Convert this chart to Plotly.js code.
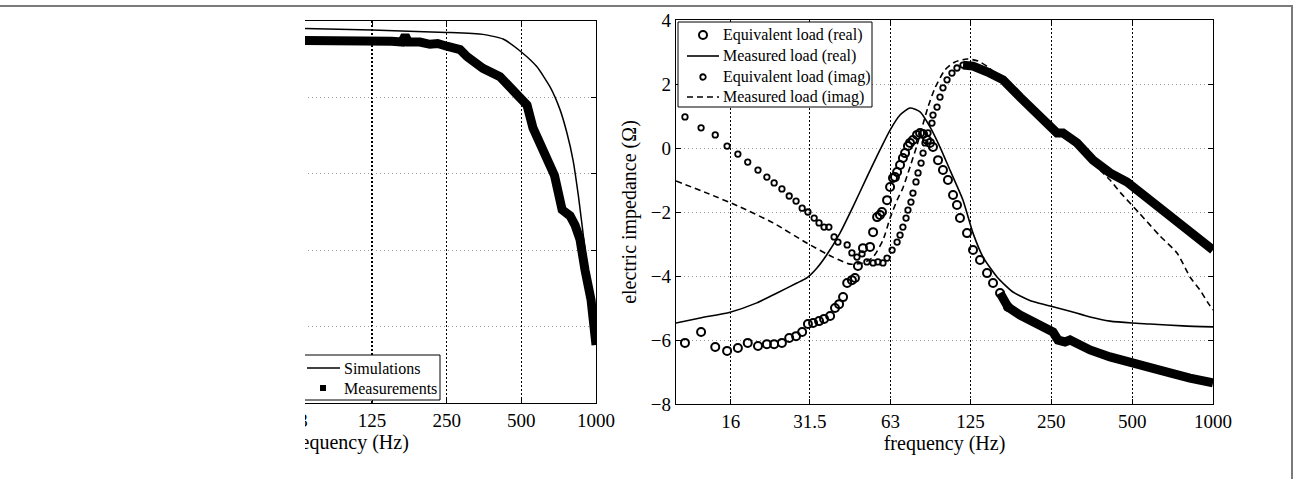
<!DOCTYPE html>
<html>
<head>
<meta charset="utf-8">
<script src="https://cdn.plot.ly/plotly-3.0.1.min.js"></script>
<style>
  body { margin: 0; background: #fff; }
  #wrap { position: relative; width: 1293px; height: 479px; overflow: hidden; background: #fff; }
  #clip { position: absolute; left: 305px; top: 0; width: 988px; height: 479px; overflow: hidden; }
  #plot { position: absolute; left: -305px; top: 0; width: 1293px; height: 479px; }
  #btop { position: absolute; left: 0; top: 5px; width: 1292px; height: 2px; background: #7a7a7a; }
  #bright { position: absolute; left: 1291px; top: 5px; width: 2px; height: 474px; background: #7a7a7a; }
</style>
</head>
<body>
<div id="wrap">
  <div id="clip"><div id="plot"></div></div>
  <div id="btop"></div>
  <div id="bright"></div>
</div>
<script>
// ---------- tick labels ----------
const tickVals = [16, 31.5, 63, 125, 250, 500, 1000];
const tickText = ['16', '31.5', '63', '125', '250', '500', '1000'];
// the left panel is cropped: only its ticks from 63 Hz up are in view
const tickValsLeft = [63, 125, 250, 500, 1000];
const tickTextLeft = ['63', '125', '250', '500', '1000'];

// ---------- left panel ----------
const simFreq = [60, 125, 250, 350, 422, 500, 578, 652, 716, 764, 808, 850, 900, 950, 1000];
const simVal  = [-0.95, -1.18, -1.5, -1.75, -2.36, -4.06, -6.0, -8.6, -11.6, -14.7, -18.2, -23.0, -29.5, -36.0, -42.4];

const measFreq = [60, 67, 80, 93, 110, 125, 150, 165, 170, 175, 195, 214, 230, 250, 283, 302, 350, 410, 480, 500, 527, 557, 612, 680, 730, 764, 786, 823, 862, 903, 955, 1000];
const measVal  = [-2.55, -2.55, -2.5, -2.42, -2.42, -2.5, -2.65, -2.75, -1.9, -2.75, -2.75, -3.05, -2.95, -3.3, -3.75, -4.67, -6.19, -7.29, -9.9, -10.3, -11.0, -14.0, -17.1, -20.2, -24.7, -25.3, -25.5, -26.7, -28.6, -32.6, -36.5, -42.4];

// ---------- right panel ----------
const eqRealFreq = [10.8, 12.4, 14.0, 15.5, 17.0, 18.5, 20.2, 21.8, 23.2, 24.8, 26.4, 28.0, 29.5, 31.0, 32.4, 34.1, 35.6, 37.5, 39.1, 40.5, 41.9, 43.4, 45.2, 46.4, 47.6, 49.7, 52.8, 54.2, 56.1, 57.5, 58.5, 61.1, 62.7, 64.3, 65.4, 66.6, 68.3, 70.0, 71.3, 73.1, 74.4, 76.3, 79.0, 81.1, 83.2, 86.1, 88.3, 90.6, 94.6, 98.7, 103.0, 107.6, 111.3, 114.2, 121.3, 127.7, 135.6, 144.0, 151.6, 161.0, 172.4];
const eqRealVal  = [-6.09, -5.75, -6.22, -6.34, -6.25, -6.09, -6.19, -6.13, -6.13, -6.09, -5.94, -5.88, -5.75, -5.5, -5.47, -5.41, -5.34, -5.25, -5.0, -4.88, -4.66, -4.22, -4.13, -4.06, -3.69, -3.13, -3.09, -2.63, -2.16, -2.09, -2.0, -1.63, -1.22, -0.94, -0.91, -0.75, -0.53, -0.31, -0.16, 0.06, 0.16, 0.25, 0.41, 0.47, 0.44, 0.25, 0.16, 0.03, -0.38, -0.69, -1.0, -1.47, -1.78, -2.19, -2.66, -3.19, -3.5, -3.91, -4.22, -4.53, -4.97];
const eqRealBandFreq = [161.0, 172.4, 191.1, 213.6, 240.9, 253.6, 264.7, 281.1, 293.4, 348.3, 413.5, 478.4, 521.2, 582.6, 691.8, 820.9, 1000];
const eqRealBandVal  = [-4.53, -4.97, -5.22, -5.44, -5.63, -5.75, -6.0, -6.06, -6.0, -6.31, -6.53, -6.69, -6.72, -6.84, -7.03, -7.19, -7.34];

const measRealFreq = [10.0, 12.3, 15.9, 20.0, 23.8, 28.2, 30.7, 33.5, 36.5, 40.8, 45.6, 51.4, 57.5, 62.7, 68.3, 74.4, 81.1, 88.3, 96.2, 104.8, 117.2, 127.7, 139.2, 156.9, 179.9, 213.6, 253.6, 293.4, 348.3, 413.5, 499.3, 582.6, 773.3, 1000];
const measRealVal  = [-5.47, -5.31, -5.13, -4.84, -4.53, -4.22, -4.06, -3.75, -3.33, -2.66, -1.84, -0.91, -0.06, 0.56, 1.03, 1.25, 1.13, 0.66, 0.03, -0.69, -1.63, -2.66, -3.41, -4.03, -4.5, -4.8, -4.96, -5.1, -5.28, -5.41, -5.47, -5.5, -5.56, -5.59];

const eqImagFreq = [10.8, 12.4, 14.0, 15.5, 17.0, 18.5, 20.2, 21.8, 23.2, 24.8, 26.4, 28.0, 29.5, 31.0, 32.7, 34.1, 35.6, 37.1, 38.8, 40.1, 43.4, 45.2, 47.2, 49.3, 51.4, 54.2, 56.5, 59.0, 61.1, 63.8, 66.6, 68.3, 70.0, 71.9, 73.1, 75.0, 76.3, 78.3, 79.7, 81.8, 83.2, 84.6, 86.8, 89.8, 90.6, 93.8, 96.2, 98.7, 102.2, 106.6, 111.3, 117.2];
const eqImagVal  = [0.97, 0.63, 0.41, 0.06, -0.19, -0.44, -0.69, -0.91, -1.09, -1.28, -1.5, -1.66, -1.88, -2.0, -2.19, -2.34, -2.47, -2.47, -2.78, -2.94, -3.03, -3.28, -3.41, -3.31, -3.56, -3.59, -3.56, -3.59, -3.44, -3.19, -2.94, -2.72, -2.47, -2.19, -1.94, -1.69, -1.41, -1.06, -0.78, -0.47, -0.16, 0.16, 0.47, 0.78, 1.03, 1.28, 1.59, 1.88, 2.13, 2.34, 2.5, 2.59];
const eqImagBandFreq = [117.2, 127.7, 144.0, 165.2, 191.1, 221.1, 247.2, 262.4, 276.3, 311.6, 357.4, 413.5, 478.4, 521.2, 582.6, 691.8, 820.9, 1000];
const eqImagBandVal  = [2.59, 2.56, 2.38, 2.13, 1.59, 1.09, 0.66, 0.47, 0.47, 0.16, -0.38, -0.78, -1.06, -1.31, -1.63, -2.09, -2.63, -3.19];

const measImagFreq = [10.0, 13.05, 17.3, 23.0, 30.7, 38.4, 44.5, 49.7, 54.2, 59.0, 62.7, 66.6, 70.0, 74.4, 79.0, 83.2, 86.8, 92.2, 100.4, 109.4, 121.3, 133.3, 145.2, 156.9, 191.1, 247.2, 319.6, 379.5, 413.5, 450.4, 534.7, 634.8, 734.5, 820.9, 894.6, 958.0, 1000];
const measImagVal  = [-1.03, -1.41, -1.84, -2.34, -2.97, -3.41, -3.63, -3.59, -3.41, -2.88, -2.19, -1.63, -1.25, -0.59, 0.09, 0.75, 1.28, 1.88, 2.44, 2.69, 2.78, 2.72, 2.53, 2.28, 1.69, 0.75, -0.06, -0.69, -1.0, -1.38, -2.06, -2.75, -3.28, -4.03, -4.44, -4.84, -5.06];

// legend entries
const legendRight = ['Equivalent load (real)', 'Measured load (real)', 'Equivalent load (imag)', 'Measured load (imag)'];
const legendLeft  = ['Simulations', 'Measurements'];

// ---------- traces ----------
const K = '#000';
const traces = [
  { x: simFreq, y: simVal, xaxis: 'x', yaxis: 'y', mode: 'lines', name: legendLeft[0],
    line: { color: K, width: 1.5, shape: 'spline', smoothing: 0.5 } },
  { x: measFreq, y: measVal, xaxis: 'x', yaxis: 'y', mode: 'lines', name: legendLeft[1],
    line: { color: K, width: 9 } },
  { x: eqRealBandFreq, y: eqRealBandVal, xaxis: 'x2', yaxis: 'y2', mode: 'lines', name: legendRight[0],
    line: { color: K, width: 9 } },
  { x: eqImagBandFreq, y: eqImagBandVal, xaxis: 'x2', yaxis: 'y2', mode: 'lines', name: legendRight[2],
    line: { color: K, width: 9 } },
  { x: eqRealFreq, y: eqRealVal, xaxis: 'x2', yaxis: 'y2', mode: 'markers', name: legendRight[0],
    marker: { symbol: 'circle-open', size: 8, color: K, line: { width: 2, color: K } } },
  { x: measRealFreq, y: measRealVal, xaxis: 'x2', yaxis: 'y2', mode: 'lines', name: legendRight[1],
    line: { color: K, width: 1.6, shape: 'spline', smoothing: 0.6 } },
  { x: eqImagFreq, y: eqImagVal, xaxis: 'x2', yaxis: 'y2', mode: 'markers', name: legendRight[2],
    marker: { symbol: 'circle-open', size: 5.5, color: K, line: { width: 1.8, color: K } } },
  { x: measImagFreq, y: measImagVal, xaxis: 'x2', yaxis: 'y2', mode: 'lines', name: legendRight[3],
    line: { color: K, width: 1.6, dash: '6px,4px', shape: 'spline', smoothing: 0.6 } }
];

// ---------- layout ----------
const W = 1293, H = 479;
const PX = v => v / W, PY = v => 1 - v / H;
const FONT = '"Liberation Serif", "Times New Roman", Times, serif';
function xStyle(extra) {
  return Object.assign({
    type: 'log', range: [1, 3], tickvals: tickVals, ticktext: tickText,
    showline: true, linecolor: K, linewidth: 1.2, mirror: 'allticks',
    ticks: 'inside', ticklen: 5, tickwidth: 1, tickcolor: K,
    showgrid: true, gridcolor: K, griddash: '2px,2px', gridwidth: 1.2,
    zeroline: false, tickfont: { size: 19, color: K, family: FONT },
    title: { text: 'frequency (Hz)', standoff: 0, font: { size: 20, color: K, family: FONT } }
  }, extra);
}
function yStyle(extra) {
  return Object.assign({
    showline: true, linecolor: K, linewidth: 1.2, mirror: 'allticks',
    ticks: 'inside', ticklen: 5, tickwidth: 1, tickcolor: K,
    showgrid: true, gridcolor: '#9a9a9a', griddash: '1px,3px', gridwidth: 1,
    zeroline: false, tickfont: { size: 19, color: K, family: FONT }
  }, extra);
}

const shapes = [];
const annotations = [];
function legendBox(x0, x1, y0, y1) {
  shapes.push({ type: 'rect', xref: 'paper', yref: 'paper', layer: 'above',
    x0: PX(x0), x1: PX(x1), y0: PY(y0), y1: PY(y1),
    fillcolor: '#fff', line: { color: K, width: 1 } });
}
function legendText(txt, x, y) {
  annotations.push({ text: txt, xref: 'paper', yref: 'paper', x: PX(x), y: PY(y),
    xanchor: 'left', yanchor: 'middle', showarrow: false,
    font: { size: 16, color: K, family: FONT } });
}
function keyLine(x0, x1, y, dash) {
  shapes.push({ type: 'line', xref: 'paper', yref: 'paper', layer: 'above',
    x0: PX(x0), x1: PX(x1), y0: PY(y), y1: PY(y), line: { color: K, width: 1.6, dash: dash || 'solid' } });
}
function keyCircle(cx, cy, d, w) {
  shapes.push({ type: 'circle', xref: 'paper', yref: 'paper', layer: 'above',
    x0: PX(cx - d / 2), x1: PX(cx + d / 2), y0: PY(cy + d / 2), y1: PY(cy - d / 2),
    line: { color: K, width: w } });
}
function keySquare(cx, cy, d) {
  shapes.push({ type: 'rect', xref: 'paper', yref: 'paper', layer: 'above',
    x0: PX(cx - d / 2), x1: PX(cx + d / 2), y0: PY(cy + d / 2), y1: PY(cy - d / 2),
    fillcolor: K, line: { color: K, width: 0 } });
}

// right legend
legendBox(678, 872, 22, 107);
const rRows = [35, 56, 77, 97];
keyCircle(703, rRows[0], 8, 2);
keyLine(687, 719, rRows[1]);
keyCircle(703, rRows[2], 5.5, 1.8);
keyLine(687, 719, rRows[3], '6px,4px');
legendRight.forEach((t, i) => legendText(t, 721, rRows[i]));

// left legend (its left part lies outside the crop)
legendBox(299, 440, 355, 400);
const lRows = [368, 388];
keyLine(307, 340, lRows[0]);
keySquare(323, lRows[1], 6);
legendLeft.forEach((t, i) => legendText(t, 342, lRows[i]));

const layout = {
  width: W, height: H,
  margin: { l: 0, r: 0, t: 0, b: 0 },
  paper_bgcolor: '#fff', plot_bgcolor: '#fff',
  font: { family: FONT, color: K, size: 19 },
  showlegend: false,
  xaxis: xStyle({ domain: [PX(100), PX(596)], anchor: 'y', tickvals: tickValsLeft, ticktext: tickTextLeft }),
  yaxis: yStyle({ domain: [PY(403), PY(21)], range: [-50, 0], dtick: 10, anchor: 'x', showticklabels: false }),
  xaxis2: xStyle({ domain: [PX(676), PX(1213)], anchor: 'y2' }),
  yaxis2: yStyle({ domain: [PY(404), PY(20)], range: [-8, 4], dtick: 2, anchor: 'x2',
    title: { text: 'electric impedance (Ω)', standoff: 8, font: { size: 20, color: K, family: FONT } } }),
  shapes: shapes,
  annotations: annotations
};

Plotly.newPlot('plot', traces, layout, { displayModeBar: false, staticPlot: true });
</script>
</body>
</html>
